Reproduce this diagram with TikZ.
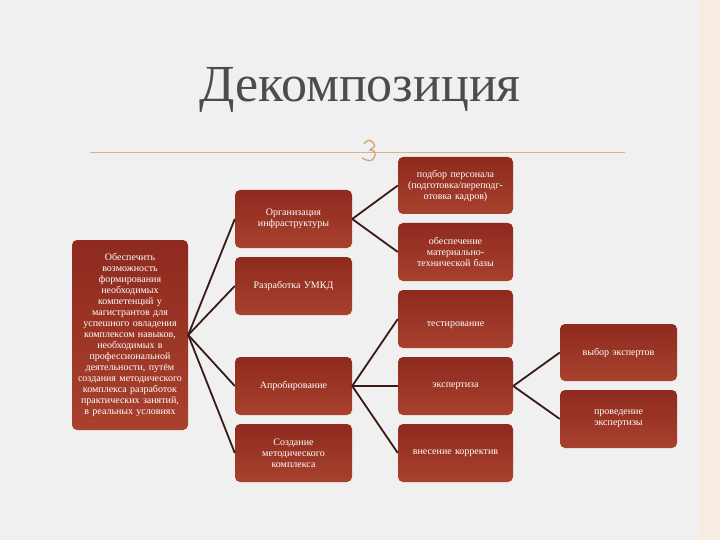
\documentclass[tikz,border=0pt]{standalone}
\usepackage{fontspec}
\setmainfont{Liberation Serif}
\definecolor{boxtop}{HTML}{8E2A1E}
\definecolor{boxbot}{HTML}{A8412E}
\definecolor{lnc}{HTML}{3A1A14}
\begin{document}
\begin{tikzpicture}[x=1pt,y=-1pt,
  bx/.style={draw=none,rounded corners=5pt,top color=boxtop,bottom color=boxbot,
    text=white,align=center,font=\fontsize{10}{11}\selectfont,inner sep=1pt},
  ln/.style={draw=lnc,line width=1.8pt}]
\fill[gray!12] (0,0) rectangle (720,540);
\fill[brown!15] (700,0) rectangle (720,540);
\useasboundingbox (0,0) rectangle (720,540);
\node[font=\fontsize{52}{52}\selectfont,text=black!70] (title) at (360,90) {Декомпозиция};
\draw[brown!60,line width=0.8pt] (90,152) -- (625,152);
\coordinate (ic) at (372,150);
\draw[brown!70,line width=1.4pt] (ic) ++(-8,-6) .. controls +(4,-5) and +(-4,-5) .. ++(10,0) .. controls +(2,4) and +(2,-3) .. ++(-4,6) .. controls +(6,0) and +(2,-4) .. ++(4,8) .. controls +(-3,5) and +(4,2) .. ++(-12,0);
\newcommand\bb[6]{\node[bx,minimum width=#3-#2,minimum height=#5-#4,text width=#6] (#1) at ({(#2+#3)/2},{(#4+#5)/2})}
\bb{root}{72}{188}{240}{430}{104}{Обеспечить возможность формирования необходимых компетенций у магистрантов для успешного овладения комплексом навыков, необходимых в профессиональной деятельности, путём создания методического комплекса разработок практических занятий, в реальных условиях};
\bb{org}{235}{352}{190}{248}{90}{Организация инфраструктуры};
\bb{umkd}{235}{352}{257}{315}{100}{Разработка УМКД};
\bb{apr}{235}{352}{357}{415}{100}{Апробирование};
\bb{soz}{235}{352}{424}{482}{80}{Создание методического комплекса};
\bb{pod}{398}{513}{157}{214}{108}{подбор персонала (подготовка/переподг\-отовка кадров)};
\bb{obe}{398}{513}{223}{281}{80}{обеспечение материально-технической базы};
\bb{tes}{398}{513}{290}{348}{100}{\\[6pt]тестирование};
\bb{eks}{398}{513}{357}{415}{100}{экспертиза};
\bb{vne}{398}{513}{424}{482}{110}{внесение корректив};
\bb{vyb}{560}{677}{324}{381}{110}{выбор экспертов};
\bb{pro}{560}{677}{390}{448}{90}{проведение экспертизы};
\foreach \t in {org,umkd,apr,soz} \draw[ln] (root.east) -- (\t.west);
\foreach \t in {pod,obe} \draw[ln] (org.east) -- (\t.west);
\foreach \t in {tes,eks,vne} \draw[ln] (apr.east) -- (\t.west);
\foreach \t in {vyb,pro} \draw[ln] (eks.east) -- (\t.west);
\end{tikzpicture}
\end{document}
